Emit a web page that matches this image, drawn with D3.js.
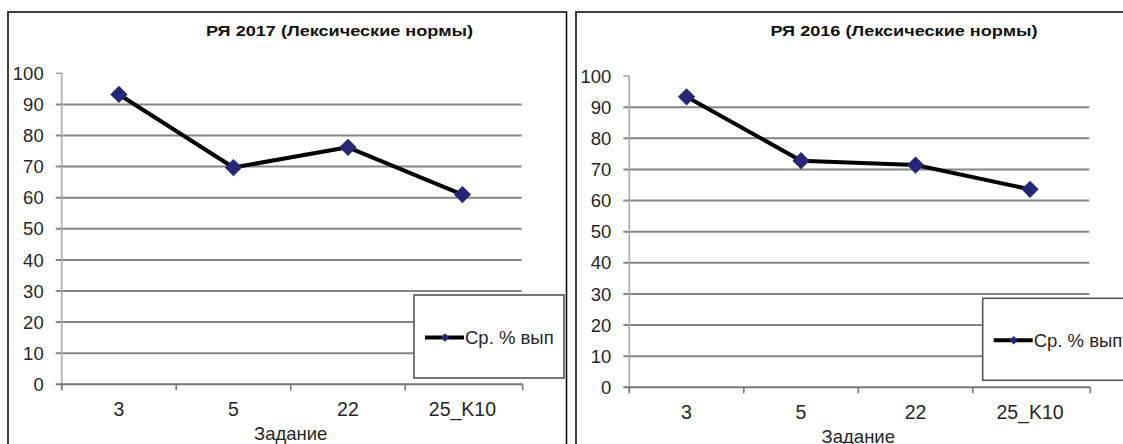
<!DOCTYPE html>
<html>
<head>
<meta charset="utf-8">
<script src="https://cdn.jsdelivr.net/npm/d3@7"></script>
<style>
  html, body { margin: 0; padding: 0; background: #fff; }
  svg { display: block; }
  text { font-family: "Liberation Sans", Arial, sans-serif; fill: #262626; }
</style>
</head>
<body>
<svg id="chart" width="1123" height="444"></svg>
<script>
// ---- data ----
const categories = ["3", "5", "22", "25_K10"];
const values2017 = [93.2, 69.7, 76.2, 61.0];
const values2016 = [93.3, 72.8, 71.4, 63.6];
const yTicks = [0, 10, 20, 30, 40, 50, 60, 70, 80, 90, 100];
const titles = ["РЯ 2017 (Лексические нормы)", "РЯ 2016 (Лексические нормы)"];
const seriesName = "Ср. % вып";
const xAxisTitle = "Задание";

// ---- layout (per panel) ----
const panels = [
  { title: titles[0], values: values2017, frameX: 8, frameY: 12, frameW: 558.5,
    axisX: 61.7, y0: 384.3, y100: 73.3, titleX: 339.5, titleY: 36,
    legend: { x: 414, y: 295, w: 150, h: 83 }, xTitleY: 440 },
  { title: titles[1], values: values2016, frameX: 576, frameY: 12, frameW: 558.5,
    axisX: 629.3, y0: 387.3, y100: 76, titleX: 904, titleY: 36,
    legend: { x: 982.7, y: 298.3, w: 150, h: 82 }, xTitleY: 443 }
];

const svg = d3.select("#chart");
const bandW = 114.5;

panels.forEach(p => {
  const g = svg.append("g");
  const x = d3.scaleBand().domain(categories).range([p.axisX, p.axisX + bandW * categories.length]).padding(0);
  const y = d3.scaleLinear().domain([0, 100]).range([p.y0, p.y100]);
  const xEnd = p.axisX + bandW * categories.length;

  // frame
  g.append("rect").attr("x", p.frameX).attr("y", p.frameY)
    .attr("width", p.frameW).attr("height", 460)
    .attr("fill", "#fff").attr("stroke", "#111").attr("stroke-width", 1.6);

  // title
  g.append("text").attr("x", p.titleX).attr("y", p.titleY)
    .attr("text-anchor", "middle").attr("font-weight", "bold")
    .attr("font-size", 15).attr("textLength", 267).attr("lengthAdjust", "spacingAndGlyphs")
    .style("fill", "#111")
    .text(p.title);

  // gridlines (10..90)
  g.selectAll("line.grid").data(yTicks.filter(t => t > 0 && t < 100)).enter()
    .append("line").attr("class", "grid")
    .attr("x1", p.axisX - 6).attr("x2", xEnd + 2)
    .attr("y1", d => y(d)).attr("y2", d => y(d))
    .attr("stroke", "#858585").attr("stroke-width", 2);

  // y axis line
  g.append("line").attr("x1", p.axisX).attr("x2", p.axisX)
    .attr("y1", y(100)).attr("y2", y(0) + 5)
    .attr("stroke", "#aaa").attr("stroke-width", 1.6);

  // top tick at 100
  g.append("line").attr("x1", p.axisX - 6).attr("x2", p.axisX)
    .attr("y1", y(100)).attr("y2", y(100))
    .attr("stroke", "#999").attr("stroke-width", 1.4);

  // y tick labels
  g.selectAll("text.ytick").data(yTicks).enter()
    .append("text").attr("class", "ytick")
    .attr("x", p.axisX - 18).attr("y", d => y(d))
    .attr("dy", "0.36em").attr("text-anchor", "end")
    .attr("font-size", 18.5)
    .text(d => d);

  // x axis (at 0)
  g.append("line").attr("x1", p.axisX - 6).attr("x2", xEnd + 3)
    .attr("y1", y(0)).attr("y2", y(0))
    .attr("stroke", "#777").attr("stroke-width", 2);
  // category boundary ticks
  const bounds = categories.map(c => x(c)).concat([xEnd + 3]);
  g.selectAll("line.xtick").data(bounds).enter()
    .append("line").attr("class", "xtick")
    .attr("x1", d => d).attr("x2", d => d)
    .attr("y1", y(0)).attr("y2", y(0) + 6)
    .attr("stroke", "#777").attr("stroke-width", 1.6);

  // category labels
  g.selectAll("text.xlab").data(categories).enter()
    .append("text").attr("class", "xlab")
    .attr("x", d => x(d) + x.bandwidth() / 2)
    .attr("y", y(0) + 24.5)
    .attr("dy", "0.36em").attr("text-anchor", "middle")
    .attr("font-size", 19.5)
    .text(d => d);

  // x axis title
  g.append("text").attr("x", (p.axisX + xEnd) / 2).attr("y", p.xTitleY)
    .attr("text-anchor", "middle").attr("font-size", 18.5)
    .text(xAxisTitle);

  // series line
  const line = d3.line().x((d, i) => x(categories[i]) + x.bandwidth() / 2).y(d => y(d));
  g.append("path").datum(p.values).attr("d", line)
    .attr("fill", "none").attr("stroke", "#000").attr("stroke-width", 4)
    .attr("stroke-linejoin", "round");

  // markers
  const diamond = d3.symbol().type(d3.symbolDiamond2).size(190);
  g.selectAll("path.mk").data(p.values).enter()
    .append("path").attr("class", "mk")
    .attr("d", diamond)
    .attr("transform", (d, i) => `translate(${x(categories[i]) + x.bandwidth() / 2},${y(d)})`)
    .attr("fill", "#27277a");

  // legend
  const L = p.legend;
  g.append("rect").attr("x", L.x).attr("y", L.y).attr("width", L.w).attr("height", L.h)
    .attr("fill", "#fff").attr("stroke", "#555").attr("stroke-width", 1.6);
  const ly = L.y + L.h / 2 + 1;
  g.append("line").attr("x1", L.x + 11).attr("x2", L.x + 50)
    .attr("y1", ly).attr("y2", ly).attr("stroke", "#000").attr("stroke-width", 4);
  g.append("path").attr("d", d3.symbol().type(d3.symbolDiamond2).size(45))
    .attr("transform", `translate(${L.x + 31},${ly})`).attr("fill", "#27277a");
  g.append("text").attr("x", L.x + 51).attr("y", ly).attr("dy", "0.36em")
    .attr("font-size", 18.5)
    .text(seriesName);
});
</script>
</body>
</html>
